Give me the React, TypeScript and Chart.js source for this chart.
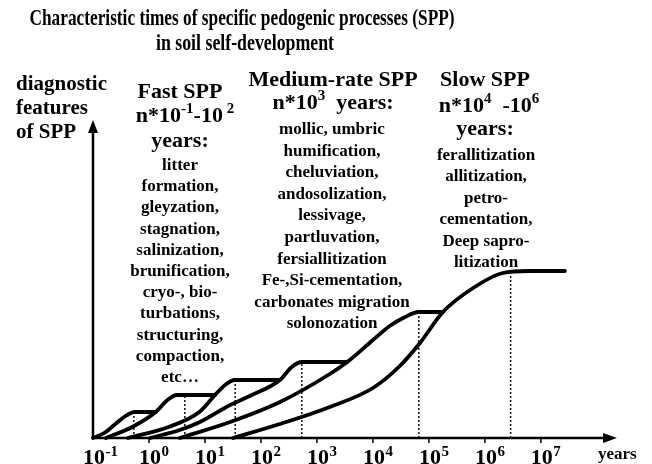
import React, { useEffect, useRef } from "react";
import { Chart, registerables } from "chart.js";

Chart.register(...registerables);

// ---- data (log10 of years on x, relative expression of diagnostic features on y) ----
const tickLogYears = [-1, 0, 1, 2, 3, 4, 5, 6, 7];
const tickExponents = ["-1", "0", "1", "2", "3", "4", "5", "6", "7"];

const curveALog = [-1, -0.8, -0.6, -0.42, -0.25, 0.12];
const curveAFeat = [0, 5, 14, 22, 26, 26];

const curveBLog = [-0.77, -0.3, 0.12, 0.33, 0.5, 1.18];
const curveBFeat = [0, 11, 26, 38, 43, 43];

const curveCLog = [-0.375, 0.35, 0.9, 1.18, 1.36, 1.53, 2.3];
const curveCFeat = [0, 11, 26, 43, 53, 58, 58];

const curveDLog = [0.02, 0.55, 0.91, 1.45, 1.8, 2.34, 2.55, 2.73, 3.54];
const curveDFeat = [0, 8, 16, 33, 42, 58, 71, 76, 76];

const curveELog = [0.55, 1.45, 2.34, 3.23, 3.54, 4.0, 4.3, 4.54, 4.82, 5.25];
const curveEFeat = [0, 16, 36, 64, 76, 98, 112, 120, 126, 126];

const curveFLog = [1.5, 2.34, 3.23, 4.0, 4.48, 4.84, 5.25, 5.79, 6.32, 6.8, 7.43];
const curveFFeat = [0, 14, 31, 50, 72, 95, 126, 150, 165, 167, 167];

const markerLogYears = [-0.27, 0.64, 1.54, 2.73, 4.82, 6.46];
const markerFeat = [26, 43, 58, 76, 126, 167];

const titleLines = [
  "Characteristic times of specific pedogenic processes (SPP)",
  "in soil self-development",
];
const yAxisLabel = ["diagnostic", "features", "of SPP"];
const xAxisLabel = "years";

const fastHeader = "Fast SPP";
const mediumHeader = "Medium-rate SPP";
const slowHeader = "Slow SPP";

const fastList = [
  "litter",
  "formation,",
  "gleyzation,",
  "stagnation,",
  "salinization,",
  "brunification,",
  "cryo-, bio-",
  "turbations,",
  "structuring,",
  "compaction,",
  "etc…",
];
const mediumList = [
  "mollic, umbric",
  "humification,",
  "cheluviation,",
  "andosolization,",
  "lessivage,",
  "partluvation,",
  "fersiallitization",
  "Fe-,Si-cementation,",
  "carbonates migration",
  "solonozation",
];
const slowList = [
  "ferallitization",
  "allitization,",
  "petro-",
  "cementation,",
  "Deep sapro-",
  "litization",
];

// ---- helpers ----
const FAMILY = "'Liberation Serif', 'Times New Roman', serif";
const bold = (s: number) => `bold ${s}px ${FAMILY}`;

type Seg = { t: string; sup?: boolean };

function drawRich(
  ctx: CanvasRenderingContext2D,
  segs: Seg[],
  cx: number,
  baseline: number,
  size: number,
  supSize: number,
  rise: number
) {
  const widths = segs.map((s) => {
    ctx.font = bold(s.sup ? supSize : size);
    return ctx.measureText(s.t).width;
  });
  const total = widths.reduce((a, b) => a + b, 0);
  let x = cx - total / 2;
  ctx.textAlign = "left";
  segs.forEach((s, i) => {
    ctx.font = bold(s.sup ? supSize : size);
    ctx.fillText(s.t, x, s.sup ? baseline - rise : baseline);
    x += widths[i];
  });
}

function drawList(
  ctx: CanvasRenderingContext2D,
  lines: string[],
  cx: number,
  firstBaseline: number,
  step: number,
  size: number
) {
  ctx.font = bold(size);
  ctx.textAlign = "center";
  lines.forEach((l, i) => ctx.fillText(l, cx, firstBaseline + i * step));
}

const pts = (xs: number[], ys: number[]) => xs.map((x, i) => ({ x, y: ys[i] }));

const textPlugin = {
  id: "textPlugin",
  beforeDraw(chart: any) {
    const ctx = chart.ctx as CanvasRenderingContext2D;
    ctx.save();
    ctx.fillStyle = "#ffffff";
    ctx.fillRect(0, 0, chart.width, chart.height);
    ctx.restore();
  },
  beforeDatasetsDraw(chart: any) {
    const ctx = chart.ctx as CanvasRenderingContext2D;
    ctx.save();
    ctx.fillStyle = "#000";
    ctx.textBaseline = "alphabetic";

    // title (condensed)
    ctx.font = bold(23);
    ctx.textAlign = "center";
    ctx.fillText(titleLines[0], 242, 25, 425);
    ctx.fillText(titleLines[1], 245, 50, 178);

    // y axis label
    ctx.font = bold(21);
    ctx.textAlign = "left";
    yAxisLabel.forEach((l, i) => ctx.fillText(l, 16, 90 + i * 24));

    // Fast column
    drawRich(ctx, [{ t: fastHeader }], 180, 98, 22, 14, 9);
    drawRich(
      ctx,
      [{ t: "n*10" }, { t: "-1", sup: true }, { t: "-10" }, { t: " 2", sup: true }],
      185,
      122,
      22,
      15,
      9
    );
    drawRich(ctx, [{ t: "years:" }], 180, 147, 22, 14, 9);
    drawList(ctx, fastList, 180, 170, 21.2, 17);

    // Medium column
    drawRich(ctx, [{ t: mediumHeader }], 333, 86, 22, 14, 9);
    drawRich(ctx, [{ t: "n*10" }, { t: "3", sup: true }, { t: "  years:" }], 333, 109, 22, 15, 9);
    drawList(ctx, mediumList, 332, 134, 21.6, 17);

    // Slow column
    drawRich(ctx, [{ t: slowHeader }], 485, 86, 22, 14, 9);
    drawRich(
      ctx,
      [{ t: "n*10" }, { t: "4", sup: true }, { t: "  -10" }, { t: "6", sup: true }],
      489,
      112,
      22,
      15,
      9
    );
    drawRich(ctx, [{ t: "years:" }], 485, 135, 22, 14, 9);
    drawList(ctx, slowList, 486, 160, 21.4, 17);

    ctx.restore();
  },
  afterDatasetsDraw(chart: any) {
    const ctx = chart.ctx as CanvasRenderingContext2D;
    const { left, right, top, bottom } = chart.chartArea;
    const xs = chart.scales.x;
    ctx.save();
    ctx.strokeStyle = "#000";
    ctx.fillStyle = "#000";
    ctx.lineWidth = 2.5;
    ctx.lineCap = "butt";

    // x axis + arrow
    ctx.beginPath();
    ctx.moveTo(left - 1, bottom);
    ctx.lineTo(right - 10, bottom);
    ctx.stroke();
    ctx.beginPath();
    ctx.moveTo(right, bottom);
    ctx.lineTo(right - 14, bottom - 5);
    ctx.lineTo(right - 14, bottom + 5);
    ctx.closePath();
    ctx.fill();

    // y axis + arrow
    ctx.beginPath();
    ctx.moveTo(left, bottom + 1);
    ctx.lineTo(left, top + 10);
    ctx.stroke();
    ctx.beginPath();
    ctx.moveTo(left, top);
    ctx.lineTo(left - 5, top + 13);
    ctx.lineTo(left + 5, top + 13);
    ctx.closePath();
    ctx.fill();

    // ticks and labels
    ctx.lineWidth = 1.5;
    tickLogYears.forEach((v, i) => {
      const px = xs.getPixelForValue(v);
      if (v > tickLogYears[0]) {
        ctx.beginPath();
        ctx.moveTo(px, bottom);
        ctx.lineTo(px, bottom + 5);
        ctx.stroke();
      }
      ctx.font = bold(22);
      const w = ctx.measureText("10").width;
      ctx.textAlign = "left";
      const x0 = px + 1 - w / 2;
      ctx.fillText("10", x0, 464);
      ctx.font = bold(15);
      ctx.fillText(tickExponents[i], x0 + w + 0.5, 456);
    });

    ctx.font = bold(17);
    ctx.textAlign = "left";
    ctx.fillText(xAxisLabel, 598, 459);
    ctx.restore();
  },
};

export default function App() {
  const ref = useRef<HTMLCanvasElement | null>(null);

  useEffect(() => {
    document.body.style.margin = "0";
    const canvas = ref.current;
    if (!canvas) return;

    const curve = (xs: number[], ys: number[]) => ({
      data: pts(xs, ys),
      borderColor: "#000",
      borderWidth: 3.8,
      borderJoinStyle: "round" as const,
      borderCapStyle: "round" as const,
      cubicInterpolationMode: "monotone" as const,
      pointRadius: 0,
      fill: false,
      clip: false as any,
    });

    const markers = markerLogYears.map((x, i) => ({
      data: [
        { x, y: 0 },
        { x, y: markerFeat[i] },
      ],
      borderColor: "#111",
      borderWidth: 1.5,
      borderDash: [2, 2],
      pointRadius: 0,
      fill: false,
      clip: false as any,
    }));

    const chart = new Chart(canvas, {
      type: "line",
      data: {
        datasets: [
          ...markers,
          curve(curveALog, curveAFeat),
          curve(curveBLog, curveBFeat),
          curve(curveCLog, curveCFeat),
          curve(curveDLog, curveDFeat),
          curve(curveELog, curveEFeat),
          curve(curveFLog, curveFFeat),
        ] as any,
      },
      options: {
        responsive: false,
        animation: false,
        events: [],
        layout: { padding: { left: 93, right: 35, top: 120, bottom: 26 } },
        scales: {
          x: { type: "linear", min: -1, max: 8.36, display: false },
          y: { type: "linear", min: 0, max: 318, display: false },
        },
        plugins: {
          legend: { display: false },
          tooltip: { enabled: false },
        },
      },
      plugins: [textPlugin],
    });

    return () => chart.destroy();
  }, []);

  return <canvas ref={ref} width={652} height={464} style={{ display: "block" }} />;
}
